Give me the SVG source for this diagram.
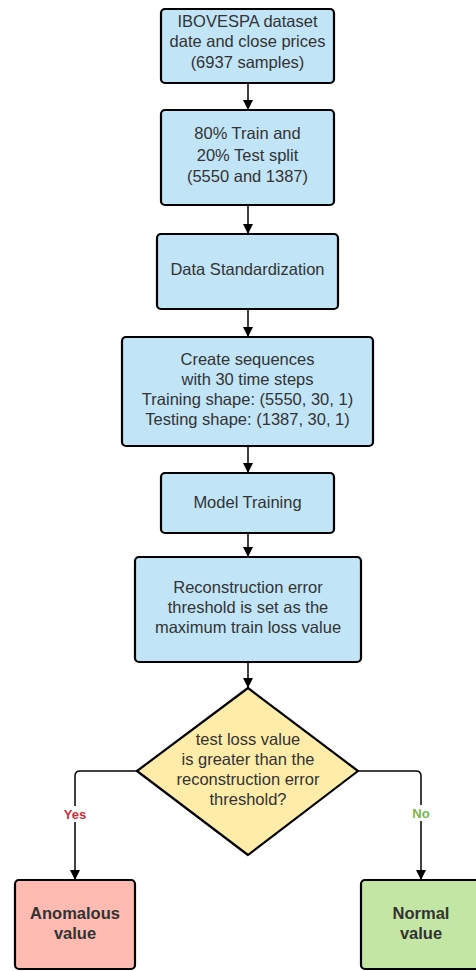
<svg xmlns="http://www.w3.org/2000/svg" width="476" height="971" viewBox="0 0 476 971">
<defs>
<marker id="ah" markerWidth="10" markerHeight="14" refX="9" refY="5" orient="auto" markerUnits="userSpaceOnUse" viewBox="0 0 10 10">
<path d="M0,0 L10,5 L0,10 Z" fill="#000"/>
</marker>
</defs>
<style>
.box{stroke:#000;stroke-width:2.2;}
.blue{fill:#c1e4f7;}
.t{font-family:"Liberation Sans",Arial,sans-serif;font-size:16.5px;fill:#333;text-anchor:middle;}
.b{font-weight:bold;}
.c{fill:none;stroke:#000;stroke-width:1.5;}
.lbl{font-family:"Liberation Sans",Arial,sans-serif;font-size:13px;font-weight:bold;text-anchor:middle;}
</style>
<rect width="476" height="971" fill="#fff"/>
<g id="connectors">
<line class="c" x1="248" y1="83" x2="248" y2="109" marker-end="url(#ah)"/>
<line class="c" x1="248" y1="205" x2="248" y2="233" marker-end="url(#ah)"/>
<line class="c" x1="248" y1="309" x2="248" y2="336" marker-end="url(#ah)"/>
<line class="c" x1="248" y1="446" x2="248" y2="472" marker-end="url(#ah)"/>
<line class="c" x1="248" y1="533" x2="248" y2="556" marker-end="url(#ah)"/>
<line class="c" x1="248" y1="662" x2="248" y2="687" marker-end="url(#ah)"/>
<path class="c" d="M137,771 H80 Q75,771 75,776 V879" marker-end="url(#ah)"/>
<path class="c" d="M358,771 H416 Q421,771 421,776 V879" marker-end="url(#ah)"/>
<rect x="61" y="806" width="28" height="16" fill="#fff"/>
<text class="lbl" x="75" y="818.5" fill="#c92d39">Yes</text>
<rect x="409" y="805" width="24" height="16" fill="#fff"/>
<text class="lbl" x="421" y="817.5" fill="#7ab648">No</text>
</g>
<g id="n1">
<rect class="box blue" x="161" y="9" width="173" height="74" rx="4"/>
<text class="t" x="247.5" y="26.5">IBOVESPA dataset</text>
<text class="t" x="247.5" y="47">date and close prices</text>
<text class="t" x="247.5" y="67.5">(6937 samples)</text>
</g>
<g id="n2">
<rect class="box blue" x="161" y="110" width="173" height="95" rx="4"/>
<text class="t" x="247.5" y="139">80% Train and</text>
<text class="t" x="247.5" y="160.5">20% Test split</text>
<text class="t" x="247.5" y="182">(5550 and 1387)</text>
</g>
<g id="n3">
<rect class="box blue" x="157" y="234" width="181" height="75" rx="4"/>
<text class="t" x="247.5" y="275">Data Standardization</text>
</g>
<g id="n4">
<rect class="box blue" x="122" y="337" width="251" height="109" rx="4"/>
<text class="t" x="247.5" y="364.5">Create sequences</text>
<text class="t" x="247.5" y="384.5">with 30 time steps</text>
<text class="t" x="247.5" y="404.5">Training shape: (5550, 30, 1)</text>
<text class="t" x="247.5" y="424.5">Testing shape: (1387, 30, 1)</text>
</g>
<g id="n5">
<rect class="box blue" x="161" y="473" width="173" height="60" rx="4"/>
<text class="t" x="247.5" y="507.5">Model Training</text>
</g>
<g id="n6">
<rect class="box blue" x="135" y="557" width="226" height="105" rx="4"/>
<text class="t" x="248" y="592.5">Reconstruction error</text>
<text class="t" x="248" y="612.5">threshold is set as the</text>
<text class="t" x="248" y="632.5">maximum train loss value</text>
</g>
<g id="n7">
<path class="box" d="M248,688 L358,771 L248,855 L137,771 Z" fill="#ffeca9" stroke-linejoin="round"/>
<text class="t" x="248" y="744.5">test loss value</text>
<text class="t" x="248" y="764.5">is greater than the</text>
<text class="t" x="248" y="784.5">reconstruction error</text>
<text class="t" x="248" y="804.5">threshold?</text>
</g>
<g id="n8">
<rect class="box" x="15" y="880" width="120" height="89" rx="4" fill="#ffbbb1"/>
<text class="t b" x="75" y="919">Anomalous</text>
<text class="t b" x="75" y="939">value</text>
</g>
<g id="n9">
<rect class="box" x="361" y="880" width="120" height="89" rx="4" fill="#c3e6a4"/>
<text class="t b" x="421" y="919">Normal</text>
<text class="t b" x="421" y="939">value</text>
</g>
</svg>
